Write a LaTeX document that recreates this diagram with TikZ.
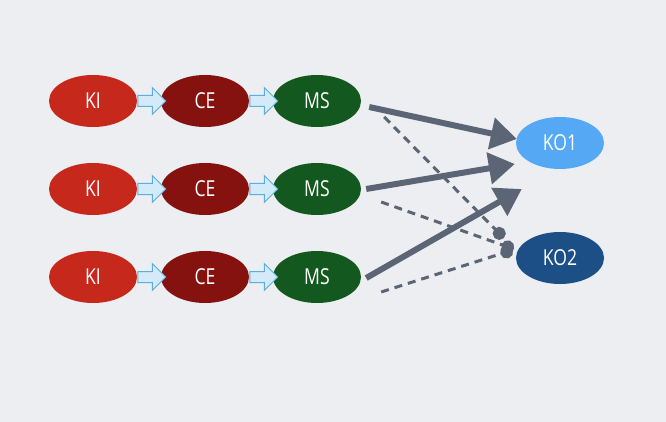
\documentclass[tikz,border=0pt]{standalone}
\usepackage{fontspec}
\setmainfont{Open Sans}
\newfontfamily\labelfont[FakeStretch=0.8]{Open Sans}
\usetikzlibrary{shapes.geometric,shapes.arrows,arrows.meta,calc}

\definecolor{bg}{HTML}{ECEEF1}
\definecolor{kired}{HTML}{C7281C}
\definecolor{cered}{HTML}{85120E}
\definecolor{msgreen}{HTML}{13581E}
\definecolor{koone}{HTML}{55A9F4}
\definecolor{kotwo}{HTML}{1B4F86}
\definecolor{flowfill}{HTML}{D3EAF8}
\definecolor{flowline}{HTML}{5AAEE2}
\definecolor{linkgray}{HTML}{5C6575}

\tikzset{
  state/.style={ellipse, minimum width=88pt, minimum height=52pt, inner sep=0pt,
    text=white, font=\labelfont\fontsize{22}{22}\selectfont},
  flow/.style={single arrow, draw=flowline, fill=flowfill, line width=1pt,
    minimum height=28pt, inner sep=5pt, single arrow head extend=8pt},
  link/.style={draw=linkgray, line width=6pt, -{Triangle[length=26pt,width=31pt]}},
  weak/.style={draw=linkgray, line width=3pt, dash pattern=on 8pt off 6pt,
    -{Circle[length=13pt,width=13pt,sep=0pt]}}
}

\begin{document}
\begin{tikzpicture}[x=1pt,y=-1pt]
  % background
  \fill[bg] (0,0) rectangle (666,422);
  \useasboundingbox (0,0) rectangle (666,422);

  % first row
  \node[state, fill=kired]   (ki1) at (93,101)  {KI};
  \node[state, fill=cered]   (ce1) at (205,101) {CE};
  \node[state, fill=msgreen] (ms1) at (317,101) {MS};

  % second row
  \node[state, fill=kired]   (ki2) at (93,189)  {KI};
  \node[state, fill=cered]   (ce2) at (205,189) {CE};
  \node[state, fill=msgreen] (ms2) at (317,189) {MS};

  % third row
  \node[state, fill=kired]   (ki3) at (93,277)  {KI};
  \node[state, fill=cered]   (ce3) at (205,277) {CE};
  \node[state, fill=msgreen] (ms3) at (317,277) {MS};

  % outcomes
  \node[state, fill=koone] (ko1) at (560,143) {KO1};
  \node[state, fill=kotwo] (ko2) at (560,258) {KO2};

  % flow arrows in the rows
  \path (ki1) -- node[flow] {} (ce1);
  \path (ce1) -- node[flow] {} (ms1);
  \path (ki2) -- node[flow] {} (ce2);
  \path (ce2) -- node[flow] {} (ms2);
  \path (ki3) -- node[flow] {} (ce3);
  \path (ce3) -- node[flow] {} (ms3);

  % strong links to KO1
  \draw[link] ($(ms1.east)+(8,6)$) -- ($(ko1.west)+(1,-4)$);
  \draw[link] ($(ms2.east)+(5,0)$) -- ($(ko1.west)+(-1,21)$);
  \draw[link] ($(ms3.east)+(5,1)$) -- ($(ko1.west)+(6,46)$);

  % weak links to KO2
  \draw[weak] ($(ms1.east)+(23,16)$) -- ($(ko2.west)+(-12,-20)$);
  \draw[weak] ($(ms2.east)+(20,13)$) -- ($(ko2.west)+(-2,-9)$);
  \draw[weak] ($(ms3.east)+(20,15)$) -- ($(ko2.west)+(-3,-8)$);
\end{tikzpicture}
\end{document}
